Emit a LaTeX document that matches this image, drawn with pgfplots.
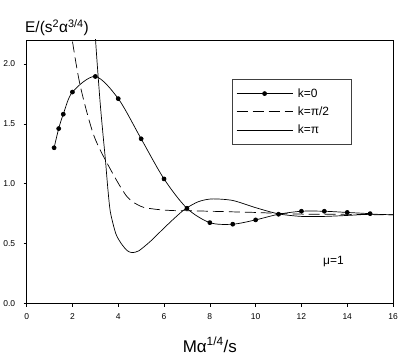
\documentclass[border=0pt]{standalone}
\usepackage{fontspec}
\setmainfont{Liberation Sans}
\usepackage{pgfplots}
\pgfplotsset{compat=1.18}

\begin{document}
\begin{tikzpicture}
\begin{axis}[
    scale only axis,
    width=367pt, height=264pt,
    xmin=0, xmax=16, ymin=0, ymax=2.2,
    xtick={0,2,4,6,8,10,12,14,16},
    ytick={0,0.5,1.0,1.5,2.0},
    xtick pos=left, ytick pos=left,
    tick align=outside,
    major tick length=3pt,
    axis line style={black, line width=0.7pt},
    tick style={black, line width=0.6pt},
    /pgf/number format/assume math mode=true,
    ticklabel style={font=\fontsize{8.5}{10}\selectfont},
    yticklabel style={/pgf/number format/fixed, /pgf/number format/fixed zerofill, /pgf/number format/precision=1, xshift=-5pt},
    xticklabel style={yshift=-4pt},
    clip=true,
    legend style={at={(rel axis cs:0.5605,0.851)}, anchor=north west,
        draw=black!75, line width=0.6pt, inner xsep=4pt, inner ysep=7pt,
        font=\fontsize{12}{14}\selectfont, row sep=4pt,
        legend cell align=left,
        nodes={inner xsep=5pt}},
    legend image code/.code={\draw[mark repeat=2,mark phase=2,#1] plot coordinates {(0pt,0pt) (28pt,0pt) (56pt,0pt)};},
]
% k = 0
\addplot[black, line width=0.7pt, smooth, tension=0.5, mark=*, mark size=2pt] coordinates {
    (1.2,1.30) (1.4,1.46) (1.6,1.58) (2,1.765) (3,1.895) (4,1.71) (5,1.375)
    (6,1.04) (7,0.795) (8,0.675) (9,0.662) (10,0.698) (11,0.745) (12,0.77)
    (13,0.77) (14,0.76) (15,0.75)
};
\addlegendentry{\makebox[44pt][l]{k=0}}
% k = pi/2
\addplot[black, line width=0.7pt, smooth, tension=0.5, dash pattern=on 11pt off 5pt] coordinates {
    (1.8,2.45) (1.99,2.2) (2.35,1.81) (2.94,1.40) (3.66,1.12) (4.39,0.89)
    (5.0,0.81) (5.5,0.79) (6.0,0.78) (6.5,0.775) (7,0.775) (8,0.77) (9,0.765)
    (10,0.76) (11,0.752) (12,0.746) (13,0.745) (14,0.744) (15,0.742) (16,0.74)
};
\addlegendentry{\makebox[44pt][l]{k=π/2}}
% k = pi
\addplot[black, line width=0.7pt, smooth, tension=0.45] coordinates {
    (2.95,2.5) (3.01,2.2) (3.2,1.7) (3.34,1.40) (3.44,1.2) (3.55,0.95)
    (3.66,0.76) (3.9,0.58) (4.17,0.49) (4.4,0.44) (4.61,0.425) (4.9,0.44)
    (5.41,0.52) (6.0,0.63) (6.5,0.72) (6.93,0.79) (7.5,0.85) (8.09,0.873)
    (9,0.86) (10,0.80) (11,0.748) (12,0.727) (13,0.727) (14,0.735) (15,0.745) (16,0.74)
};
\addlegendentry{\makebox[44pt][l]{k=π}}
\node[font=\fontsize{12}{14}\selectfont] at (axis cs:13.4,0.35) {μ=1};
\end{axis}
\node[anchor=base west, font=\fontsize{15.5}{17}\selectfont] at (-5pt,271pt)
    {E/(s\textsuperscript{2}α\textsuperscript{3/4})};
\node[anchor=base, font=\fontsize{17}{19}\selectfont] at (183.5pt,-48.7pt)
    {Mα\textsuperscript{1/4}/s};
\path (-26pt,-56pt) rectangle (389pt,304pt);
\end{tikzpicture}
\end{document}
